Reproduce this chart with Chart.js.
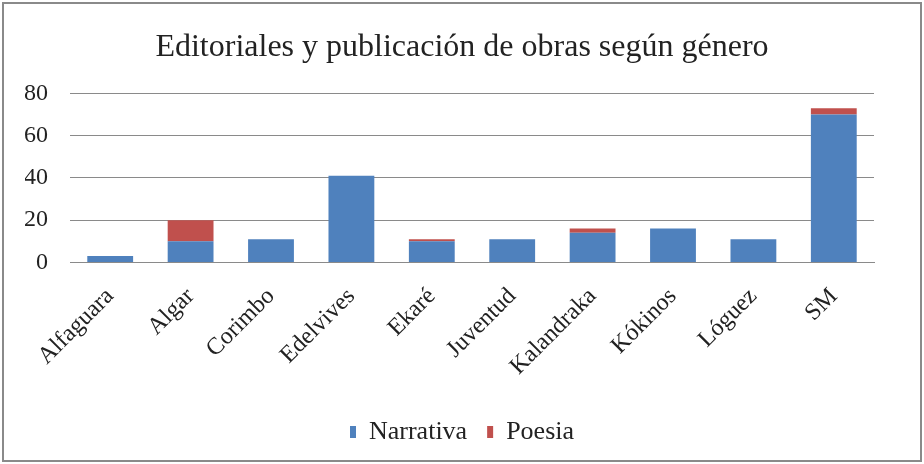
<!DOCTYPE html>
<html>
<head>
<meta charset="utf-8">
<script src="https://cdn.jsdelivr.net/npm/chart.js@4"></script>
<style>
  html, body { margin: 0; padding: 0; background: #fff; }
  #wrap { width: 924px; height: 464px; position: relative; }
</style>
</head>
<body>
<div id="wrap"><canvas id="grafico" width="924" height="464"></canvas></div>
<script>
// Datos
const editoriales = ['Alfaguara', 'Algar', 'Corimbo', 'Edelvives', 'Ekaré', 'Juventud', 'Kalandraka', 'Kókinos', 'Lóguez', 'SM'];
const narrativa = [3, 10, 11, 41, 10, 11, 14, 16, 11, 70];
const poesia = [0, 10, 0, 0, 1, 0, 2, 0, 0, 3];
const ejeY = [0, 20, 40, 60, 80];

const serif = '"Liberation Serif", "Times New Roman", serif';

// marco gris alrededor de todo el gráfico
const marco = {
    id: 'marco',
    afterDraw(chart) {
        const ctx = chart.ctx;
        ctx.save();
        ctx.strokeStyle = '#8a8a8a';
        ctx.lineWidth = 2;
        ctx.strokeRect(3, 3, chart.width - 6, chart.height - 6);
        ctx.restore();
    }
};

new Chart(document.getElementById('grafico'), {
    type: 'bar',
    data: {
        labels: editoriales,
        datasets: [
            { label: 'Narrativa', data: narrativa, backgroundColor: '#4F81BD', stack: 's1' },
            { label: 'Poesia', data: poesia, backgroundColor: '#C0504D', stack: 's1' }
        ]
    },
    options: {
        responsive: false,
        animation: false,
        layout: { padding: { top: 18, right: 25, bottom: 9, left: 25 } },
        datasets: { bar: { barPercentage: 0.57, categoryPercentage: 1 } },
        plugins: {
            title: {
                display: true,
                text: 'Editoriales y publicación de obras según género',
                color: '#222',
                font: { family: serif, size: 32, weight: 'normal' },
                padding: { top: 10, bottom: 27 }
            },
            legend: {
                position: 'bottom',
                labels: {
                    color: '#222',
                    font: { family: serif, size: 26 },
                    boxWidth: 6,
                    boxHeight: 12,
                    padding: 20
                }
            },
            tooltip: { enabled: false }
        },
        scales: {
            x: {
                stacked: true,
                afterFit(scale) { scale.height -= 2; },
                grid: { display: false, drawTicks: false },
                border: { color: '#8a8a8a' },
                ticks: {
                    color: '#222',
                    font: { family: serif, size: 24 },
                    minRotation: 45,
                    maxRotation: 45,
                    padding: 20
                }
            },
            y: {
                stacked: true,
                min: 0,
                max: 80,
                afterFit(scale) { scale.width = 45; },
                afterBuildTicks(scale) { scale.ticks = ejeY.map(v => ({ value: v })); },
                grid: { color: '#8a8a8a', drawTicks: false },
                border: { display: false },
                ticks: {
                    color: '#222',
                    font: { family: serif, size: 24 },
                    padding: 22
                }
            },
            // eje vacío a la derecha, sólo para reservar margen
            yDer: {
                position: 'right',
                afterFit(scale) { scale.width = 25; },
                grid: { display: false, drawTicks: false },
                border: { display: false },
                ticks: { display: false }
            }
        }
    },
    plugins: [marco]
});
</script>
</body>
</html>
